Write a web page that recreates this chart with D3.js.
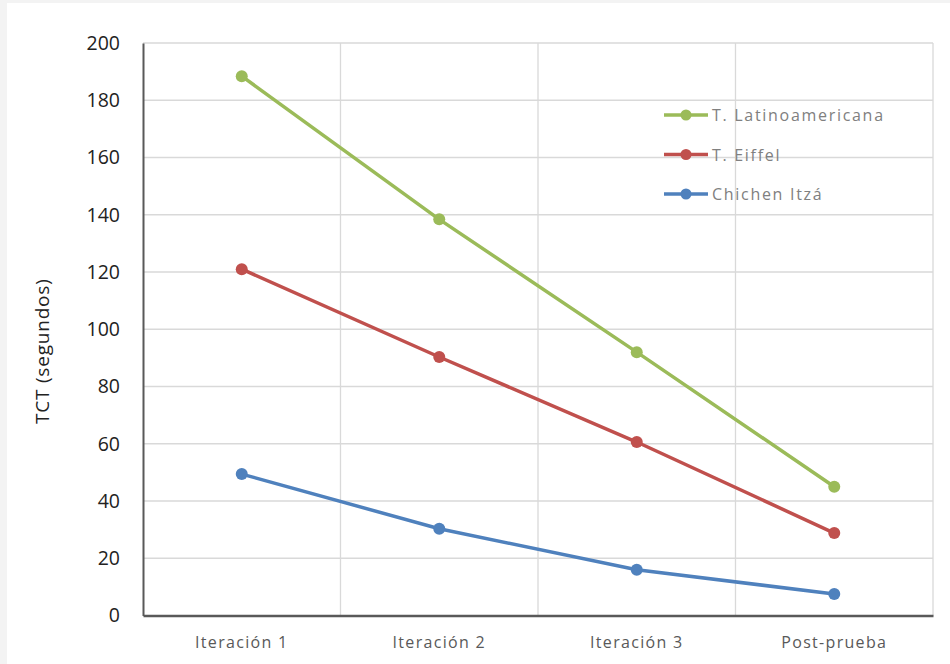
<!DOCTYPE html>
<html>
<head>
<meta charset="utf-8">
<script src="https://cdn.jsdelivr.net/npm/d3@7"></script>
<style>
  html, body { margin: 0; padding: 0; background: #f3f3f3; }
  svg { display: block; }
</style>
</head>
<body>
<svg id="chart" width="950" height="664"></svg>
<script>
// Categories and series values
const categories = ["Iteración 1", "Iteración 2", "Iteración 3", "Post-prueba"];
const latinoamericana = [188.4, 138.4, 92, 45];
const eiffel = [121, 90.3, 60.6, 28.8];
const chichen = [49.4, 30.3, 16, 7.5];
const seriesNames = ["T. Latinoamericana", "T. Eiffel", "Chichen Itzá"];
const seriesColors = ["#9bbb59", "#c0504d", "#4f81bd"];
const yTicks = [0, 20, 40, 60, 80, 100, 120, 140, 160, 180, 200];
const yTitle = "TCT (segundos)";

const series = [latinoamericana, eiffel, chichen].map((values, i) => ({
  name: seriesNames[i], color: seriesColors[i], values
}));

const svg = d3.select("#chart");
const W = 950, H = 664;
const plot = { left: 143, right: 933, top: 43, bottom: 615.5 };

// White card
svg.append("rect").attr("x", 7).attr("y", 3).attr("width", W - 7).attr("height", H - 3).attr("fill", "#ffffff");

const x = d3.scaleBand().domain(categories).range([plot.left, plot.right]);
const y = d3.scaleLinear().domain([0, 200]).range([plot.bottom, plot.top]);

// Horizontal gridlines
svg.append("g").selectAll("line").data(yTicks.filter(t => t > 0)).join("line")
  .attr("x1", plot.left).attr("x2", plot.right)
  .attr("y1", d => y(d)).attr("y2", d => y(d))
  .attr("stroke", "#d9d9d9").attr("stroke-width", 1.3);

// Vertical gridlines at band boundaries
const bounds = categories.slice(1).map(c => x(c)).concat([plot.right]);
svg.append("g").selectAll("line").data(bounds).join("line")
  .attr("x1", d => d).attr("x2", d => d)
  .attr("y1", plot.top).attr("y2", plot.bottom)
  .attr("stroke", "#d9d9d9").attr("stroke-width", 1.3);

// Y axis
const yAxis = svg.append("g").attr("transform", `translate(${plot.left},0)`)
  .call(d3.axisLeft(y).tickValues(yTicks).tickSize(0).tickPadding(23));
yAxis.select(".domain").attr("stroke", "#595959").attr("stroke-width", 2);
yAxis.selectAll("text")
  .attr("font-family", "'Open Sans', sans-serif").attr("font-size", 19.5)
  .attr("fill", "#222222");

// X axis
const xAxis = svg.append("g").attr("transform", `translate(0,${plot.bottom})`)
  .call(d3.axisBottom(x).tickSize(0).tickPadding(21));
xAxis.select(".domain").attr("stroke", "#595959").attr("stroke-width", 2.5);
xAxis.selectAll("text")
  .attr("font-family", "'Open Sans', sans-serif").attr("font-size", 16)
  .attr("letter-spacing", "1.3px")
  .attr("fill", "#595959");

// Y axis title
svg.append("text")
  .attr("transform", `translate(44,${(plot.top + plot.bottom) / 2 + 22}) rotate(-90)`)
  .attr("text-anchor", "middle").attr("dominant-baseline", "middle")
  .attr("font-family", "'Open Sans', sans-serif").attr("font-size", 19)
  .attr("letter-spacing", "0.8px")
  .attr("fill", "#222222")
  .text(yTitle);

// Lines and markers
const line = d3.line().x((d, i) => x(categories[i]) + x.bandwidth() / 2).y(d => y(d));
const gSeries = svg.append("g").selectAll("g").data(series).join("g");
gSeries.append("path")
  .attr("d", d => line(d.values))
  .attr("fill", "none").attr("stroke", d => d.color)
  .attr("stroke-width", 3.5).attr("stroke-linejoin", "round");
gSeries.each(function (s) {
  d3.select(this).selectAll("circle").data(s.values).join("circle")
    .attr("cx", (d, i) => x(categories[i]) + x.bandwidth() / 2)
    .attr("cy", d => y(d))
    .attr("r", 6).attr("fill", s.color);
});

// Legend
const legend = svg.append("g").selectAll("g").data(series).join("g")
  .attr("transform", (d, i) => `translate(664,${115 + i * 39.5})`);
legend.append("line").attr("x1", 0).attr("x2", 44).attr("y1", 0).attr("y2", 0)
  .attr("stroke", d => d.color).attr("stroke-width", 3.5);
legend.append("circle").attr("cx", 22).attr("cy", 0).attr("r", 5.5).attr("fill", d => d.color);
legend.append("text").attr("x", 48).attr("y", 0).attr("dominant-baseline", "central")
  .attr("font-family", "'Open Sans', sans-serif").attr("font-size", 16)
  .attr("letter-spacing", "1.7px")
  .attr("fill", "#808080")
  .text(d => d.name);
</script>
</body>
</html>
